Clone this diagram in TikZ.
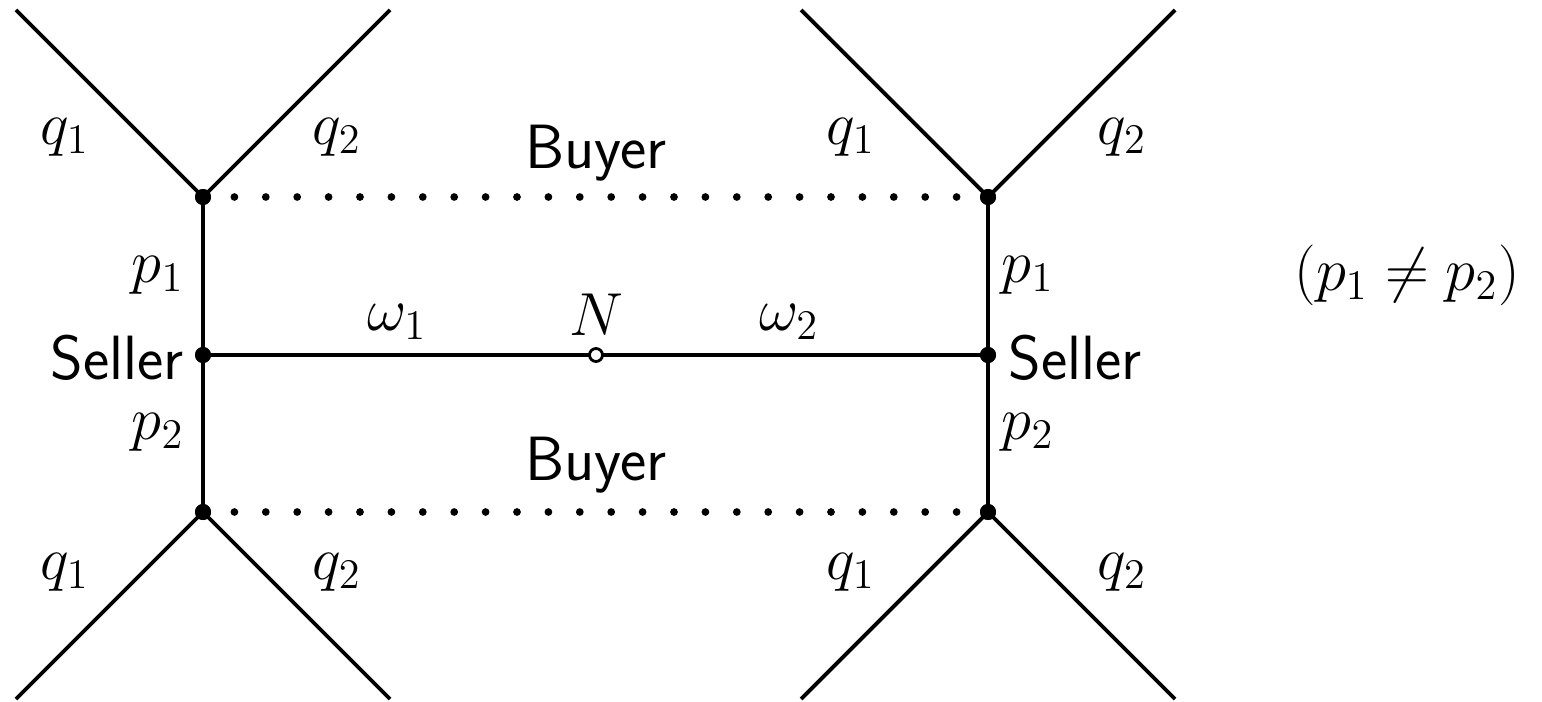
\documentclass[tikz,border=0pt]{standalone}
\begin{document}
\begin{tikzpicture}[x=1cm,y=1cm,
  every node/.style={font=\fontsize{17.8}{21.4}\selectfont},
  edge/.style={line width=1.1pt},
  dotline/.style={line width=2.2pt, line cap=round, dash pattern=on 0pt off 0.314cm},
  solidnode/.style={circle, fill=black, inner sep=0pt, minimum size=0.16cm},
  chance/.style={circle, draw=black, fill=white, line width=0.8pt, inner sep=0pt, minimum size=0.13cm},
  lbl/.style={inner sep=0pt},
  slbl/.style={inner sep=0pt, font=\fontsize{17.8}{21.4}\selectfont\sffamily}]
\useasboundingbox (0,0) rectangle (15.42,7.01);
% end coordinates
\coordinate (tl1) at (0.16,6.91);
\coordinate (tl2) at (3.90,6.91);
\coordinate (tr1) at (8.01,6.91);
\coordinate (tr2) at (11.75,6.91);
\coordinate (bl1) at (0.16,0.02);
\coordinate (bl2) at (3.90,0.02);
\coordinate (br1) at (8.01,0.02);
\coordinate (br2) at (11.75,0.02);
\node[solidnode] (TL) at (2.03,5.04) {};
\node[solidnode] (ML) at (2.03,3.46) {};
\node[solidnode] (BL) at (2.03,1.89) {};
\node[solidnode] (TR) at (9.88,5.04) {};
\node[solidnode] (MR) at (9.88,3.46) {};
\node[solidnode] (BR) at (9.88,1.89) {};
% lines
\draw[edge] (tl1) -- (TL.center) -- (tl2);
\draw[edge] (tr1) -- (TR.center) -- (tr2);
\draw[edge] (bl1) -- (BL.center) -- (bl2);
\draw[edge] (br1) -- (BR.center) -- (br2);
\draw[edge] (TL.center) -- (ML.center) -- (BL.center);
\draw[edge] (TR.center) -- (MR.center) -- (BR.center);
\draw[edge] (ML.center) -- (MR.center);
\draw[dotline] (TL.center) -- (TR.center);
\draw[dotline] (BL.center) -- (BR.center);
\node[solidnode] at (TL) {};
\node[solidnode] at (ML) {};
\node[solidnode] at (BL) {};
\node[solidnode] at (TR) {};
\node[solidnode] at (MR) {};
\node[solidnode] at (BR) {};
\node[chance] (N) at (5.96,3.46) {};
% labels
\node[lbl] (q1a) at (0.65,5.64) {$q_1$};
\node[lbl] (q2a) at (3.37,5.64) {$q_2$};
\node[lbl] (q1b) at (8.51,5.64) {$q_1$};
\node[lbl] (q2b) at (11.22,5.64) {$q_2$};
\node[slbl] (buy1) at (5.96,5.48) {Buyer};
\node[lbl] (p1a) at (1.58,4.26) {$p_1$};
\node[lbl] (p1b) at (10.28,4.26) {$p_1$};
\node[lbl] (w1) at (3.97,3.79) {$\omega_1$};
\node[lbl] (Nl) at (5.96,3.86) {$N$};
\node[lbl] (w2) at (7.89,3.79) {$\omega_2$};
\node[slbl] (sel1) at (1.17,3.43) {Seller};
\node[slbl] (sel2) at (10.75,3.43) {Seller};
\node[lbl] (p2a) at (1.58,2.69) {$p_2$};
\node[lbl] (p2b) at (10.28,2.69) {$p_2$};
\node[slbl] (buy2) at (5.96,2.36) {Buyer};
\node[lbl] (q1c) at (0.65,1.29) {$q_1$};
\node[lbl] (q2c) at (3.37,1.29) {$q_2$};
\node[lbl] (q1d) at (8.51,1.29) {$q_1$};
\node[lbl] (q2d) at (11.22,1.29) {$q_2$};
\node[lbl, font=\fontsize{18.8}{22.6}\selectfont] (cond) at (14.07,4.26) {$(p_1 \neq p_2)$};
\end{tikzpicture}
\end{document}
